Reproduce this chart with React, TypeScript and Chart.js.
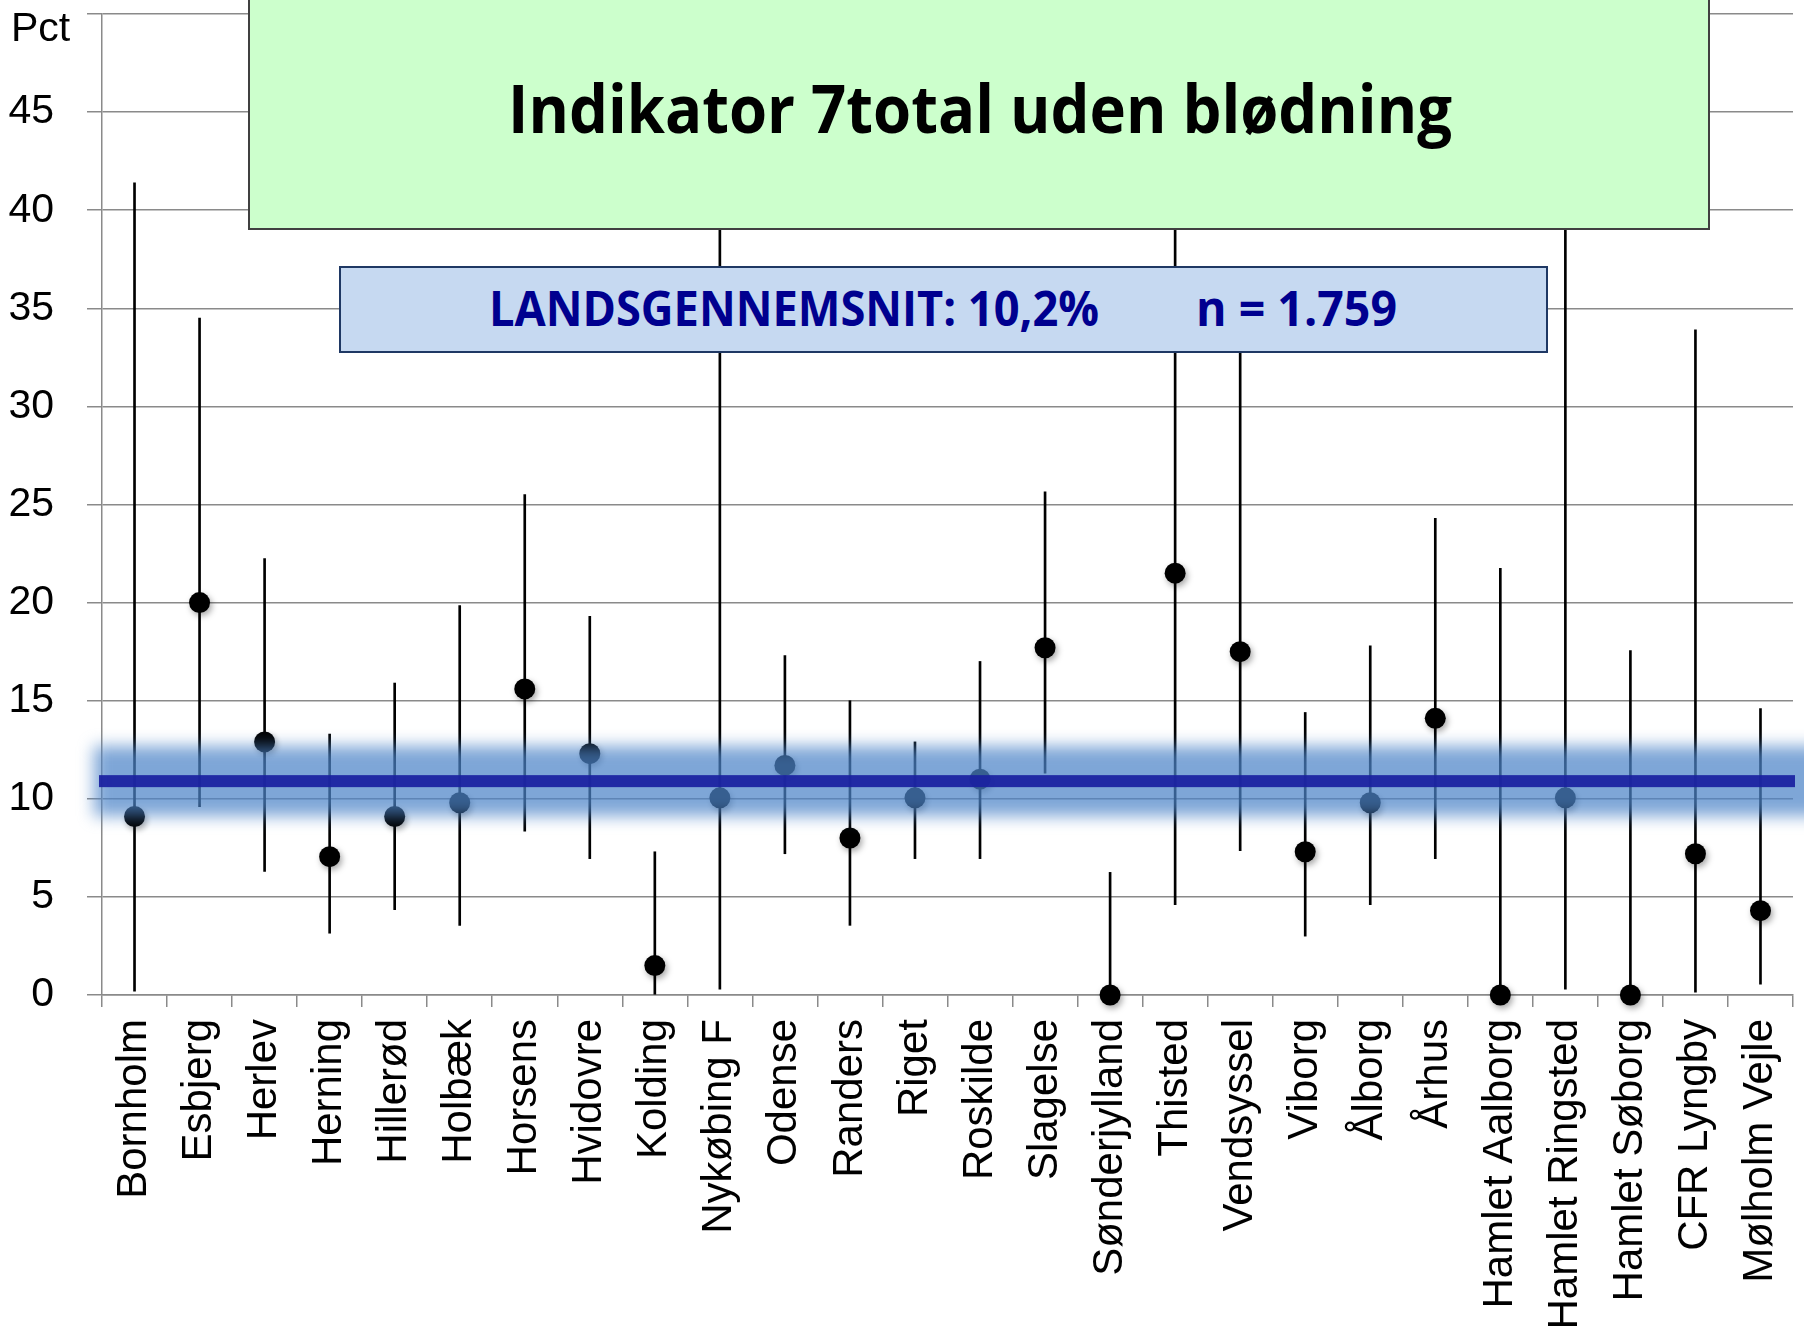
import React, { useEffect, useLayoutEffect, useRef } from 'react';
import { Chart, registerables } from 'chart.js';

Chart.register(...registerables);

// ---------- data ----------
const CATEGORIES = [
  'Bornholm', 'Esbjerg', 'Herlev', 'Herning', 'Hillerød', 'Holbæk', 'Horsens', 'Hvidovre',
  'Kolding', 'Nykøbing F', 'Odense', 'Randers', 'Riget', 'Roskilde', 'Slagelse',
  'Sønderjylland', 'Thisted', 'Vendsyssel', 'Viborg', 'Ålborg', 'Århus',
  'Hamlet Aalborg', 'Hamlet Ringsted', 'Hamlet Søborg', 'CFR Lyngby', 'Mølholm Vejle',
];
const RATE = [
  9.1, 20.0, 12.9, 7.05, 9.1, 9.8, 15.6, 12.3, 1.5, 10.05, 11.7, 8.0, 10.05, 11.0, 17.7,
  0, 21.5, 17.5, 7.3, 9.8, 14.1, 0, 10.05, 0, 7.2, 4.3,
];
const CI_LOW = [
  0.2, 9.6, 6.3, 3.15, 4.35, 3.55, 8.35, 6.95, 0, 0.3, 7.2, 3.55, 6.95, 6.95, 11.3,
  0, 4.6, 7.35, 3.0, 4.6, 6.95, 0, 0.3, 0, 0.15, 0.55,
];
const CI_HIGH = [
  41.4, 34.5, 22.25, 13.3, 15.9, 19.85, 25.5, 19.3, 7.3, 46, 17.3, 15.0, 12.9, 17.0, 25.65,
  6.25, 47, 35, 14.4, 17.8, 24.3, 21.75, 45, 17.55, 33.9, 14.6,
];
const NATIONAL_AVG = 10.9;
const Y_MIN = 0;
const Y_MAX = 50;
const Y_STEP = 5;

const TITLE = 'Indikator 7total uden blødning';
const AVG_LABEL = 'LANDSGENNEMSNIT: 10,2%';
const N_LABEL = 'n = 1.759';
const Y_UNIT = 'Pct';

const AXIS_FONT = '"Liberation Sans", Arial, sans-serif';
const BOX_FONT = '"Open Sans", "Noto Sans", sans-serif';

function FitText(props: { text: string; left: number; top: number; width: number; style: React.CSSProperties }) {
  const ref = useRef<HTMLSpanElement>(null);
  useLayoutEffect(() => {
    const el = ref.current;
    if (!el) return;
    const fit = () => {
      el.style.transform = 'none';
      const w = el.getBoundingClientRect().width;
      if (w > 0) el.style.transform = `scaleX(${props.width / w})`;
    };
    fit();
    if ((document as any).fonts && (document as any).fonts.ready) {
      (document as any).fonts.ready.then(fit);
    }
  }, [props.width, props.text]);
  return (
    <span
      ref={ref}
      style={{
        position: 'absolute',
        left: props.left,
        top: props.top,
        whiteSpace: 'nowrap',
        transformOrigin: '0 0',
        ...props.style,
      }}
    >
      {props.text}
    </span>
  );
}

export default function App() {
  const canvasRef = useRef<HTMLCanvasElement>(null);

  useEffect(() => {
    const canvas = canvasRef.current;
    if (!canvas) return;

    const avgBand = {
      id: 'avgBand',
      afterDatasetsDraw(chart: any) {
        const { ctx, chartArea, scales } = chart;
        const y = scales.y.getPixelForValue(NATIONAL_AVG);
        ctx.save();
        ctx.filter = 'blur(8px)';
        ctx.fillStyle = 'rgba(76,131,200,0.72)';
        ctx.fillRect(chartArea.left - 8, y - 35, chartArea.right - chartArea.left + 40, 70);
        ctx.filter = 'none';
        ctx.fillStyle = 'rgba(26,32,160,0.93)';
        ctx.fillRect(chartArea.left - 3, y - 6, chartArea.right - chartArea.left + 5, 12);
        ctx.restore();
      },
    };

    const pointShadow = {
      id: 'pointShadow',
      beforeDatasetDraw(chart: any, args: any) {
        if (args.index === 0) {
          const ctx = chart.ctx;
          ctx.save();
          ctx.shadowColor = 'rgba(0,0,0,0.35)';
          ctx.shadowBlur = 6;
          ctx.shadowOffsetX = 2;
          ctx.shadowOffsetY = 3;
        }
      },
      afterDatasetDraw(chart: any, args: any) {
        if (args.index === 0) chart.ctx.restore();
      },
    };

    const chart = new Chart(canvas, {
      type: 'bar',
      data: {
        labels: CATEGORIES,
        datasets: [
          {
            type: 'line',
            label: 'Andel',
            data: RATE,
            showLine: false,
            pointRadius: 10.5,
            pointHoverRadius: 10.5,
            pointBackgroundColor: '#000',
            pointBorderWidth: 0,
            clip: false,
            order: 1,
          } as any,
          {
            type: 'bar',
            label: '95% CI',
            data: CATEGORIES.map((_, i) => [CI_LOW[i], CI_HIGH[i]]),
            backgroundColor: '#000',
            barThickness: 2,
            grouped: false,
            order: 2,
          } as any,
        ],
      },
      options: {
        animation: false,
        responsive: false,
        devicePixelRatio: 1,
        layout: { padding: { top: 14, right: 11, left: 0, bottom: 0 } },
        plugins: {
          legend: { display: false },
          tooltip: { enabled: false },
          title: { display: false },
        },
        scales: {
          x: {
            offset: true,
            grid: {
              offset: true,
              drawOnChartArea: false,
              drawTicks: true,
              tickLength: 12,
              color: '#8a8a8a',
              lineWidth: 1.5,
            },
            border: { color: '#8a8a8a', width: 1.5 },
            ticks: {
              autoSkip: false,
              maxRotation: 90,
              minRotation: 90,
              padding: 12,
              color: '#000',
              font: { family: AXIS_FONT, size: 42 },
            },
            afterFit(s: any) {
              s.height = 343;
              s.paddingLeft = 0;
              s.paddingRight = 0;
            },
          },
          y: {
            min: Y_MIN,
            max: Y_MAX,
            ticks: {
              stepSize: Y_STEP,
              padding: 33,
              color: '#000',
              font: { family: AXIS_FONT, size: 41 },
              callback: (v: any) => (Number(v) === Y_MAX ? '' : String(v)),
            },
            grid: { color: '#8a8a8a', lineWidth: 1.5, tickLength: 15 },
            border: { color: '#8a8a8a', width: 1.5 },
            afterFit(s: any) {
              s.width = 102;
              s.paddingTop = 0;
              s.paddingBottom = 0;
            },
          },
        },
      } as any,
      plugins: [pointShadow, avgBand],
    });

    return () => chart.destroy();
  }, []);

  return (
    <div
      style={{
        position: 'absolute',
        left: 0,
        top: 0,
        width: 1804,
        height: 1338,
        background: '#fff',
        overflow: 'hidden',
      }}
    >
      <canvas ref={canvasRef} width={1804} height={1338} style={{ position: 'absolute', left: 0, top: 0 }} />

      <div
        style={{
          position: 'absolute',
          left: 11,
          top: 4,
          fontFamily: AXIS_FONT,
          fontSize: 41,
          color: '#000',
          lineHeight: 'normal',
        }}
      >
        {Y_UNIT}
      </div>

      <div
        style={{
          position: 'absolute',
          left: 248,
          top: -3,
          width: 1462,
          height: 233,
          boxSizing: 'border-box',
          background: '#CCFFCC',
          border: '2px solid #404040',
        }}
      />
      <FitText
        text={TITLE}
        left={508}
        top={74}
        width={944}
        style={{ fontFamily: BOX_FONT, fontWeight: 700, fontSize: 66, lineHeight: '66px', color: '#000' }}
      />

      <div
        style={{
          position: 'absolute',
          left: 339,
          top: 266,
          width: 1209,
          height: 87,
          boxSizing: 'border-box',
          background: '#C6D9F1',
          border: '2px solid #1F3864',
        }}
      />
      <FitText
        text={AVG_LABEL}
        left={489}
        top={284}
        width={610}
        style={{ fontFamily: BOX_FONT, fontWeight: 700, fontSize: 48, lineHeight: '48px', color: '#00008F' }}
      />
      <FitText
        text={N_LABEL}
        left={1196}
        top={284}
        width={201}
        style={{ fontFamily: BOX_FONT, fontWeight: 700, fontSize: 48, lineHeight: '48px', color: '#00008F' }}
      />
    </div>
  );
}
